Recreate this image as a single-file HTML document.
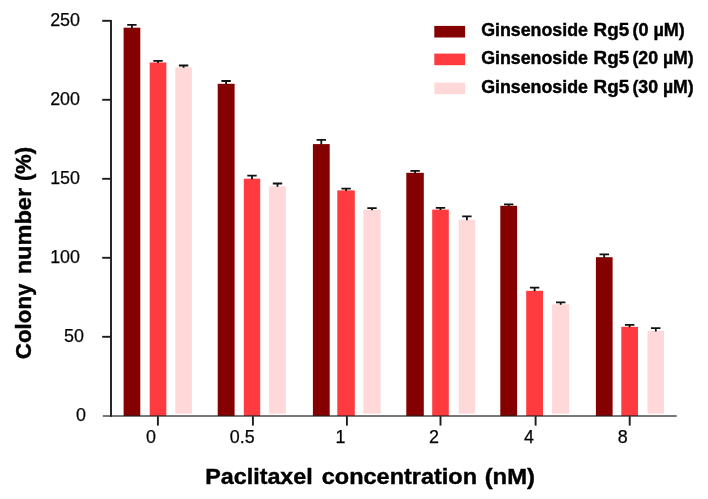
<!DOCTYPE html>
<html lang="en">
<head>
<meta charset="utf-8">
<title>Colony number vs Paclitaxel concentration</title>
<style>
html,body{margin:0;padding:0;background:#fff;}
body{width:708px;height:499px;overflow:hidden;}
svg{display:block;}
text{font-family:"Liberation Sans",Arial,Helvetica,sans-serif;fill:#000;}
.tick{font-size:17.9px;stroke:#111;stroke-width:0.25px;}
.leg{font-size:17.6px;font-weight:bold;stroke:#000;stroke-width:0.4px;}
.ttl{font-size:21.6px;font-weight:bold;stroke:#000;stroke-width:0.4px;}
</style>
</head>
<body>
<svg width="708" height="499" viewBox="0 0 708 499">
<rect x="0" y="0" width="708" height="499" fill="#ffffff"/>

<g>
<rect x="123.6" y="27.7" width="16.7" height="388.3" fill="#850000"/>
<rect x="149.7" y="62.5" width="16.6" height="353.5" fill="#FF3B3F"/>
<rect x="175.3" y="67.2" width="16.6" height="346.5" fill="#FFD9D9"/>
<rect x="217.7" y="83.8" width="16.9" height="332.2" fill="#850000"/>
<rect x="243.8" y="178.7" width="16.4" height="237.3" fill="#FF3B3F"/>
<rect x="269.1" y="186.3" width="16.8" height="227.4" fill="#FFD9D9"/>
<rect x="312.9" y="144.1" width="16.8" height="271.9" fill="#850000"/>
<rect x="337.3" y="190.4" width="17.5" height="225.6" fill="#FF3B3F"/>
<rect x="363.3" y="209.8" width="17.4" height="203.9" fill="#FFD9D9"/>
<rect x="406.3" y="172.8" width="17.5" height="243.2" fill="#850000"/>
<rect x="432.2" y="209.6" width="16.6" height="206.4" fill="#FF3B3F"/>
<rect x="458.7" y="219.7" width="16.4" height="194.0" fill="#FFD9D9"/>
<rect x="500.3" y="205.8" width="16.8" height="210.2" fill="#850000"/>
<rect x="526.2" y="290.8" width="16.8" height="125.2" fill="#FF3B3F"/>
<rect x="552.1" y="304.3" width="17.1" height="109.4" fill="#FFD9D9"/>
<rect x="595.9" y="257.2" width="16.7" height="158.8" fill="#850000"/>
<rect x="621.3" y="326.8" width="16.7" height="89.2" fill="#FF3B3F"/>
<rect x="647.5" y="331.0" width="16.5" height="82.7" fill="#FFD9D9"/>
</g>
<g stroke="#111" stroke-width="1.8" fill="none">
<path d="M127.2 24.8H136.6M131.9 24.8V28.2"/>
<path d="M153.3 60.8H162.7M158.0 60.8V63.0"/>
<path d="M178.9 65.5H188.3M183.6 65.5V67.7"/>
<path d="M221.4 81.0H230.8M226.1 81.0V84.3"/>
<path d="M247.3 175.6H256.7M252.0 175.6V179.2"/>
<path d="M272.8 183.5H282.2M277.5 183.5V186.8"/>
<path d="M316.6 139.9H326.0M321.3 139.9V144.6"/>
<path d="M341.4 188.7H350.8M346.1 188.7V190.9"/>
<path d="M367.3 208.1H376.7M372.0 208.1V210.3"/>
<path d="M410.4 170.9H419.8M415.1 170.9V173.3"/>
<path d="M435.8 207.9H445.2M440.5 207.9V210.1"/>
<path d="M462.2 216.3H471.6M466.9 216.3V220.2"/>
<path d="M504.0 204.4H513.4M508.7 204.4V206.3"/>
<path d="M529.9 287.7H539.3M534.6 287.7V291.3"/>
<path d="M556.0 302.3H565.4M560.7 302.3V304.8"/>
<path d="M599.5 254.4H609.0M604.2 254.4V257.7"/>
<path d="M624.9 324.8H634.4M629.6 324.8V327.3"/>
<path d="M651.0 328.2H660.5M655.8 328.2V331.5"/>
</g>
<path d="M102.8 416H676.7" stroke="#1e1e1e" stroke-opacity="0.8" stroke-width="1.6" fill="none"/>
<g stroke="#1c1c1c" stroke-width="1.9" fill="none">
<path d="M111 19.9V416.7"/>
<path d="M102.2 336.8H111"/>
<path d="M102.2 257.8H111"/>
<path d="M102.2 178.8H111"/>
<path d="M102.2 99.8H111"/>
<path d="M102.2 20.8H111"/>
<path d="M157.9 416.2V425.6"/>
<path d="M252.9 416.2V425.6"/>
<path d="M346.9 416.2V425.6"/>
<path d="M440.5 416.2V425.6"/>
<path d="M535.6 416.2V425.6"/>
<path d="M629.7 416.2V425.6"/>
</g>
<text class="tick" x="86.0" y="421.4" text-anchor="end">0</text>
<text class="tick" x="84.0" y="342.4" text-anchor="end">50</text>
<text class="tick" x="80.0" y="263.4" text-anchor="end">100</text>
<text class="tick" x="80.0" y="184.4" text-anchor="end">150</text>
<text class="tick" x="80.0" y="105.4" text-anchor="end">200</text>
<text class="tick" x="80.0" y="26.4" text-anchor="end">250</text>
<text class="tick" x="151" y="443" text-anchor="middle">0</text>
<text class="tick" x="242.2" y="443" text-anchor="middle">0.5</text>
<text class="tick" x="340.5" y="443" text-anchor="middle">1</text>
<text class="tick" x="434" y="443" text-anchor="middle">2</text>
<text class="tick" x="529" y="443" text-anchor="middle">4</text>
<text class="tick" x="622.8" y="443" text-anchor="middle">8</text>
<rect x="434.3" y="25.9" width="30.8" height="11.6" fill="#850000"/>
<text class="leg" transform="translate(481.19 35.9) scale(1.0115 1)">Ginsenoside</text>
<text class="leg" transform="translate(593.53 35.9) scale(1.0719 1)">Rg5</text>
<text class="leg" transform="translate(632.38 35.9) scale(1.0245 1)">(0 µM)</text>
<rect x="434.3" y="53.6" width="30.8" height="11.6" fill="#FF3B3F"/>
<text class="leg" transform="translate(481.19 63.9) scale(1.0115 1)">Ginsenoside</text>
<text class="leg" transform="translate(593.53 63.9) scale(1.0719 1)">Rg5</text>
<text class="leg" transform="translate(632.39 63.9) scale(1.0068 1)">(20 µM)</text>
<rect x="434.3" y="82.6" width="30.8" height="11.6" fill="#FFD9D9"/>
<text class="leg" transform="translate(481.19 92.6) scale(1.0115 1)">Ginsenoside</text>
<text class="leg" transform="translate(593.53 92.6) scale(1.0719 1)">Rg5</text>
<text class="leg" transform="translate(632.39 92.6) scale(1.0068 1)">(30 µM)</text>
<text class="ttl" transform="translate(205.22 483.6) scale(1.0794 1)">Paclitaxel</text>
<text class="ttl" transform="translate(321.81 483.6) scale(1.0871 1)">concentration</text>
<text class="ttl" transform="translate(484.70 483.6) scale(1.1023 1)">(nM)</text>
<text class="ttl" transform="translate(31 359.23) rotate(-90) scale(1.0347 1)">Colony</text>
<text class="ttl" transform="translate(31 274.29) rotate(-90) scale(1.0910 1)">number</text>
<text class="ttl" transform="translate(31 181.02) rotate(-90) scale(1.0156 1)">(%)</text>
</svg>
</body>
</html>
